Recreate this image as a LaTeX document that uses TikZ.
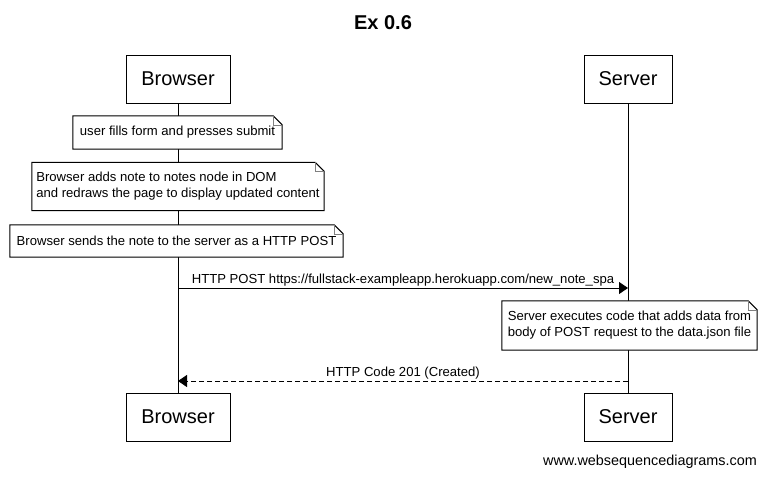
\documentclass[tikz,border=0pt]{standalone}
\usepackage{fontspec}
\setmainfont{Liberation Sans}
\usetikzlibrary{arrows.meta, positioning, backgrounds}

\begin{document}
\begin{tikzpicture}[x=1pt, y=-1pt,
    actor/.style={draw, line width=1pt, minimum height=48pt, inner sep=0pt, font=\fontsize{20}{24}\selectfont},
    note/.style={align=left, inner sep=0pt, font=\fontsize{13.1}{16}\selectfont},
    msg/.style={line width=1pt, -{Triangle[length=9pt, width=12pt]}},
    lbl/.style={font=\fontsize{13.1}{16}\selectfont, inner sep=0pt}]
\useasboundingbox (0,0) rectangle (766,477);

\node[font=\bfseries\fontsize{20}{24}\selectfont] (title) at (383,23) {Ex 0.6};

% participants, top and bottom
\node[actor, minimum width=104pt] (browserTop) at (178,79) {Browser};
\node[actor, minimum width=88pt] (serverTop) at (628,79) {Server};
\node[actor, minimum width=104pt] (browserBot) at (178,417) {Browser};
\node[actor, minimum width=88pt] (serverBot) at (628,417) {Server};

% notes
\node[note, minimum width=209pt, minimum height=33pt] (n1) at (177.5,132.5) {user fills form and presses submit};
\node[note, minimum width=292pt, minimum height=48pt] (n2) at (178,186.5) {Browser adds note to notes node in DOM\\and redraws the page to display updated content};
\node[note, minimum width=333pt, minimum height=32pt] (n3) at (176.5,241) {Browser sends the note to the server as a HTTP POST};
\node[note, minimum width=255pt, minimum height=49pt] (n4) at (629.5,325.5) {Server executes code that adds data from\\body of POST request to the data.json file};

\begin{scope}[on background layer]
\draw[line width=1pt] (browserTop.south) -- (browserBot.north);
\draw[line width=1pt] (serverTop.south) -- (serverBot.north);
\foreach \n in {n1,n2,n3,n4} {
    \draw[line width=1pt, fill=white] (\n.south west) -- (\n.north west) -- ([xshift=-9pt]\n.north east) -- ([yshift=-9pt]\n.north east) -- (\n.south east) -- cycle;
    \draw[gray, very thin] ([xshift=-9pt]\n.north east) |- ([yshift=-9pt]\n.north east);
}
\end{scope}

% messages
\coordinate (post1) at (browserTop |- 0,288);
\coordinate (post2) at (serverTop |- 0,288);
\draw[msg] (post1) -- (post2) node[lbl, midway, above=1pt] {HTTP POST https://fullstack-exampleapp.herokuapp.com/new\_note\_spa};

\coordinate (resp1) at (serverTop |- 0,381);
\coordinate (resp2) at (browserTop |- 0,381);
\draw[msg, dash pattern=on 5pt off 3pt] (resp1) -- (resp2) node[lbl, midway, above=1pt] {HTTP Code 201 (Created)};

\node[lbl, font=\fontsize{14.4}{17}\selectfont, anchor=east] (credit) at (757,462) {www.websequencediagrams.com};

\end{tikzpicture}
\end{document}
